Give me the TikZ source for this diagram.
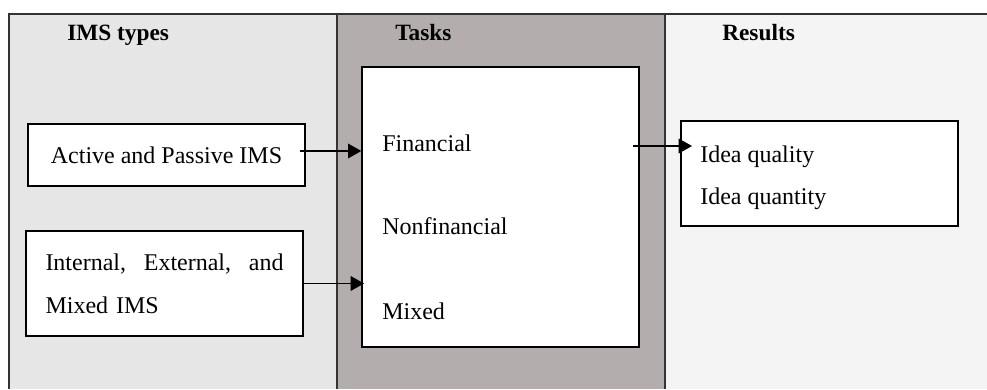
\documentclass[tikz,border=0pt]{standalone}
\usepackage{fontspec}
\setmainfont{Liberation Serif}
\usetikzlibrary{arrows.meta}

\definecolor{typesbg}{HTML}{E6E6E6}
\definecolor{tasksbg}{HTML}{B3ADAD}
\definecolor{resultsbg}{HTML}{F4F4F4}
\definecolor{framegray}{HTML}{333333}

\tikzset{
    box/.style={draw=black, line width=1pt, fill=white, inner sep=0pt},
    header/.style={anchor=base west, inner sep=0pt, font=\fontsize{17.5}{20}\selectfont\bfseries},
    itemtext/.style={anchor=base west, inner sep=0pt, font=\fontsize{18}{20}\selectfont},
    arrowline/.style={-{Triangle[length=10pt,width=11pt]}, line width=1pt},
}

\begin{document}
\begin{tikzpicture}[x=0.75pt,y=-0.75pt]
                \useasboundingbox (0,0) rectangle (987,389);
                % the three columns
                \fill[typesbg] (9,14) rectangle (337,389);
                \fill[tasksbg] (337,14) rectangle (665,389);
                \fill[resultsbg] (665,14) rectangle (987,389);
                \draw[framegray, line width=1pt] (9,389) -- (9,14) -- (987,14);
                \draw[framegray, line width=0.8pt] (337,14) -- (337,389);
                \draw[framegray, line width=0.8pt] (665,14) -- (665,389);

                \node[header] (typeshead) at (67,40) {IMS types};
                \node[header] (taskshead) at (395,40) {Tasks};
                \node[header] (resultshead) at (722,40) {Results};

                % boxes
                \node[box, minimum width=277*0.75pt, minimum height=62*0.75pt,
                    font=\fontsize{18}{20}\selectfont] (active) at (166.5,155) {Active and Passive IMS};
                \node[box, minimum width=277*0.75pt, minimum height=105*0.75pt,
                    text width=238*0.75pt, align=left,
                    font=\fontsize{18}{32}\selectfont] (internal) at (164.5,283.5)
                    {Internal, \hfill External, \hfill and\\Mixed IMS};
                \node[box, minimum width=277*0.75pt, minimum height=280*0.75pt] (tasks) at (500.5,207) {};
                \node[box, minimum width=277*0.75pt, minimum height=105*0.75pt] (results) at (819.5,173.5) {};

                \node[itemtext] (financial) at (382,151) {Financial};
                \node[itemtext] (nonfinancial) at (382,234) {Nonfinancial};
                \node[itemtext] (mixed) at (382,319) {Mixed};
                \node[itemtext] (quality) at (700,162) {Idea quality};
                \node[itemtext] (quantity) at (700,204) {Idea quantity};

                % connectors
                \coordinate (finin) at (tasks.west |- 0,151);
                \coordinate (finout) at (633,146);
                \coordinate (qualin) at (692,146);
                \draw[arrowline] ([xshift=-4pt]active.east |- finin) -- (finin);
                \draw[arrowline] (internal.east) -- ([xshift=2pt]internal.east -| tasks.west);
                \draw[arrowline] (finout) -- (qualin);
            \end{tikzpicture}
\end{document}
